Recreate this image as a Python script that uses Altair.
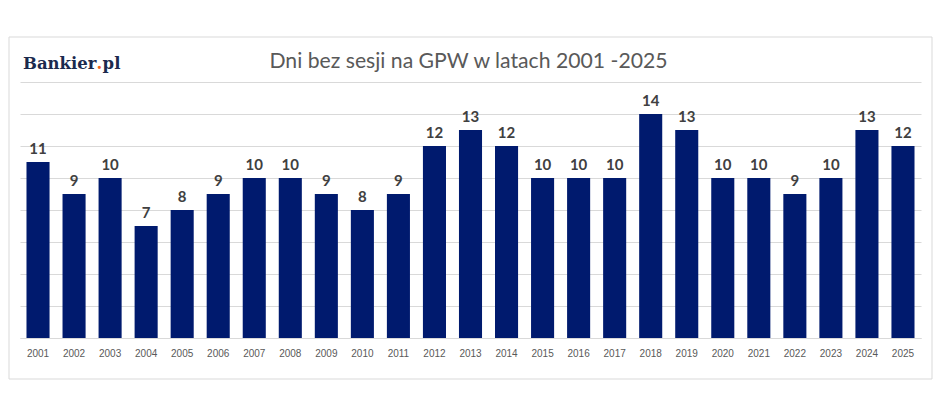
import altair as alt
import pandas as pd

years = [str(y) for y in range(2001, 2026)]
days = [11, 9, 10, 7, 8, 9, 10, 10, 9, 8, 9, 12, 13, 12, 10, 10, 10, 14, 13, 10, 10, 9, 10, 13, 12]
title_text = "Dni bez sesji na GPW w latach 2001 -2025"
y_ticks = [0, 2, 4, 6, 8, 10, 12, 14, 16]

df = pd.DataFrame({"year": years, "days": days})

W, H = 901, 256
NAVY = "#001a6e"

base = alt.Chart(df)

x = alt.X("year:O", title=None,
          scale=alt.Scale(paddingInner=0.36, paddingOuter=0.18),
          axis=alt.Axis(labelAngle=0, labelFont="Liberation Sans", labelFontSize=10,
                        labelColor="#595959", ticks=False, domainColor="#d9d9d9",
                        labelPadding=10))
y = alt.Y("days:Q", title=None, scale=alt.Scale(domain=[0, 16], nice=False),
          axis=alt.Axis(values=y_ticks, labels=False, ticks=False, domain=False,
                        gridColor="#d9d9d9", gridWidth=1))

bars = base.mark_bar(color=NAVY).encode(x=x, y=y)
labels = base.mark_text(font="Lato", fontWeight="bold", fontSize=15, color="#404040",
                        baseline="alphabetic", dy=-8).encode(x=x, y=y, text="days:Q")

frame = alt.Chart(pd.DataFrame({"a": [0]})).mark_rect(
    fill=None, stroke="#d9d9d9", strokeWidth=1, clip=False
).encode(x=alt.value(-11), x2=alt.value(912), y=alt.value(-45), y2=alt.value(297))

title = alt.Chart(pd.DataFrame({"t": [title_text]})).mark_text(
    font="Lato", fontSize=21.2, color="#595959", align="center", baseline="alphabetic"
).encode(x=alt.value(448.5), y=alt.value(-14), text="t:N")

LOGO_FONT = "DejaVu Serif"
LOGO_SIZE = 16.5
logo1 = alt.Chart(pd.DataFrame({"t": ["Bankier"]})).mark_text(
    font=LOGO_FONT, fontWeight="bold", fontSize=LOGO_SIZE, color="#1b2a4e",
    align="right", baseline="alphabetic"
).encode(x=alt.value(76.5), y=alt.value(-13), text="t:N")
logo2 = alt.Chart(pd.DataFrame({"t": ["."]})).mark_text(
    font=LOGO_FONT, fontWeight="bold", fontSize=LOGO_SIZE, color="#f0641e",
    align="left", baseline="alphabetic"
).encode(x=alt.value(76.5), y=alt.value(-13), text="t:N")
logo3 = alt.Chart(pd.DataFrame({"t": ["pl"]})).mark_text(
    font=LOGO_FONT, fontWeight="bold", fontSize=LOGO_SIZE, color="#1b2a4e",
    align="left", baseline="alphabetic"
).encode(x=alt.value(82.6), y=alt.value(-13), text="t:N")

chart = alt.layer(frame, bars, labels, title, logo1, logo2, logo3).properties(
    width=W, height=H,
    autosize=alt.AutoSizeParams(type="none"),
    padding={"left": 12, "top": 74, "right": 19, "bottom": 69},
    background="white",
).configure_view(stroke=None)

chart.save("out.html", embed_options={"renderer": "svg", "actions": False})
